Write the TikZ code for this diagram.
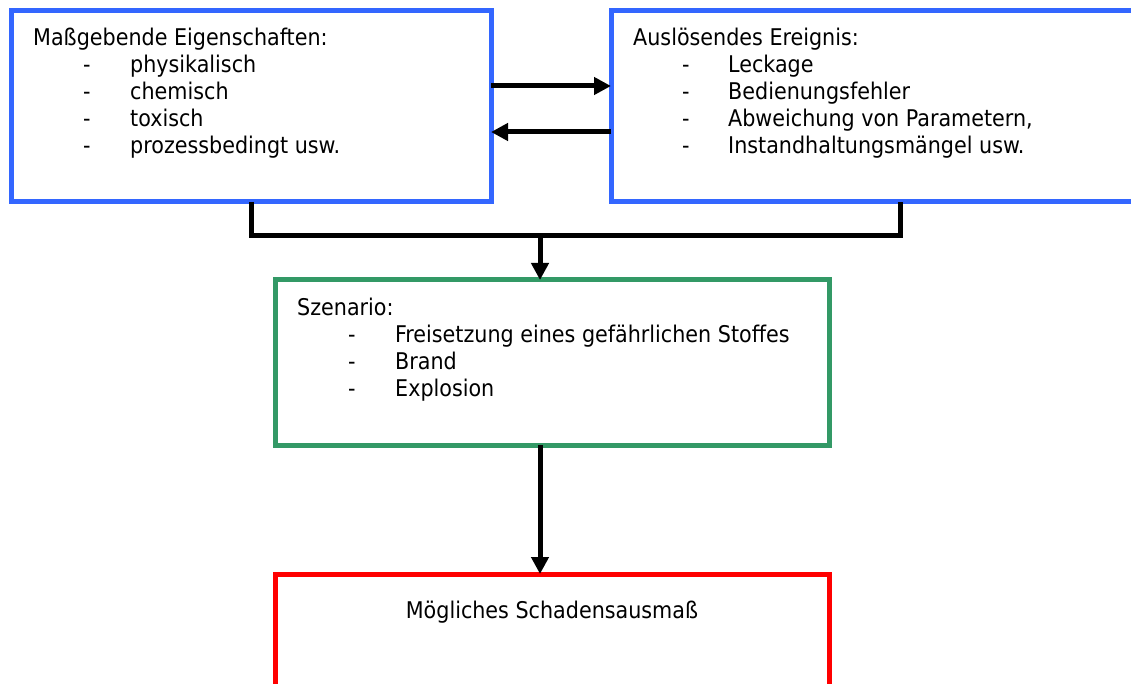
\documentclass[tikz,border=0pt]{standalone}
\usepackage{fontspec}
\setmainfont{DejaVu Sans Condensed}
\usetikzlibrary{arrows.meta}
\definecolor{boxblue}{HTML}{3366FF}
\definecolor{boxgreen}{HTML}{339966}
\definecolor{boxred}{HTML}{FF0000}
\begin{document}
\begin{tikzpicture}[x=1pt,y=-1pt,
  frame/.style={draw,line width=5pt,rectangle,inner sep=0pt,outer sep=0pt},
  txt/.style={anchor=base west,inner sep=0pt,font=\fontsize{23}{27}\selectfont},
  conn/.style={line width=5pt,-{Triangle[length=17pt,width=17pt]}},
  plain/.style={line width=5pt}]
\useasboundingbox (0,0) rectangle (1131,684);
\clip (0,0) rectangle (1131,684);
% boxes
\node[frame,draw=boxblue,minimum width=480pt,minimum height=191pt] (L) at (251,106.5) {};
\node[frame,draw=boxblue,minimum width=560pt,minimum height=191pt] (R) at (891,106.5) {};
\node[frame,draw=boxgreen,minimum width=554pt,minimum height=165pt] (S) at (552,362.5) {};
\node[frame,draw=boxred,minimum width=554pt,minimum height=160pt] (D) at (552,654) {};
% left text
\node[txt] (l0) at (33,46) {Maßgebende Eigenschaften:};
\node[txt] (l1d) at (83,73) {-};  \node[txt] (l1) at (130,73) {physikalisch};
\node[txt] (l2d) at (83,100) {-}; \node[txt] (l2) at (130,100) {chemisch};
\node[txt] (l3d) at (83,127) {-}; \node[txt] (l3) at (130,127) {toxisch};
\node[txt] (l4d) at (83,154) {-}; \node[txt] (l4) at (130,154) {prozessbedingt usw.};
% right text
\node[txt] (r0) at (633,46) {Auslösendes Ereignis:};
\node[txt] (r1d) at (682,73) {-};  \node[txt] (r1) at (728,73) {Leckage};
\node[txt] (r2d) at (682,100) {-}; \node[txt] (r2) at (728,100) {Bedienungsfehler};
\node[txt] (r3d) at (682,127) {-}; \node[txt] (r3) at (728,127) {Abweichung von Parametern,};
\node[txt] (r4d) at (682,154) {-}; \node[txt] (r4) at (728,154) {Instandhaltungsmängel usw.};
% scenario text
\node[txt] (s0) at (297,315) {Szenario:};
\node[txt] (s1d) at (348,342) {-}; \node[txt] (s1) at (395,342) {Freisetzung eines gefährlichen Stoffes};
\node[txt] (s2d) at (348,369) {-}; \node[txt] (s2) at (395,369) {Brand};
\node[txt] (s3d) at (348,396) {-}; \node[txt] (s3) at (395,396) {Explosion};
% damage text
\node[txt,anchor=base] (d0) at (552,618) {Mögliches Schadensausmaß};
% connectors
\coordinate (ya) at (0,86);
\coordinate (yb) at (0,132);
\coordinate (xl) at (251,0);
\coordinate (xr) at (900,0);
\coordinate (jn) at (540,236);
\coordinate (jl) at (251,236);
\coordinate (jr) at (900,236);
\draw[conn] (L.east |- ya) -- (R.west |- ya);
\draw[conn] (R.west |- yb) -- (L.east |- yb);
\draw[plain] (L.south -| xl) -- (jl) -- (jr) -- (R.south -| xr);
\draw[conn] (jn) -- (S.north -| jn);
\draw[conn] (S.south -| jn) -- (D.north -| jn);
\end{tikzpicture}
\end{document}
